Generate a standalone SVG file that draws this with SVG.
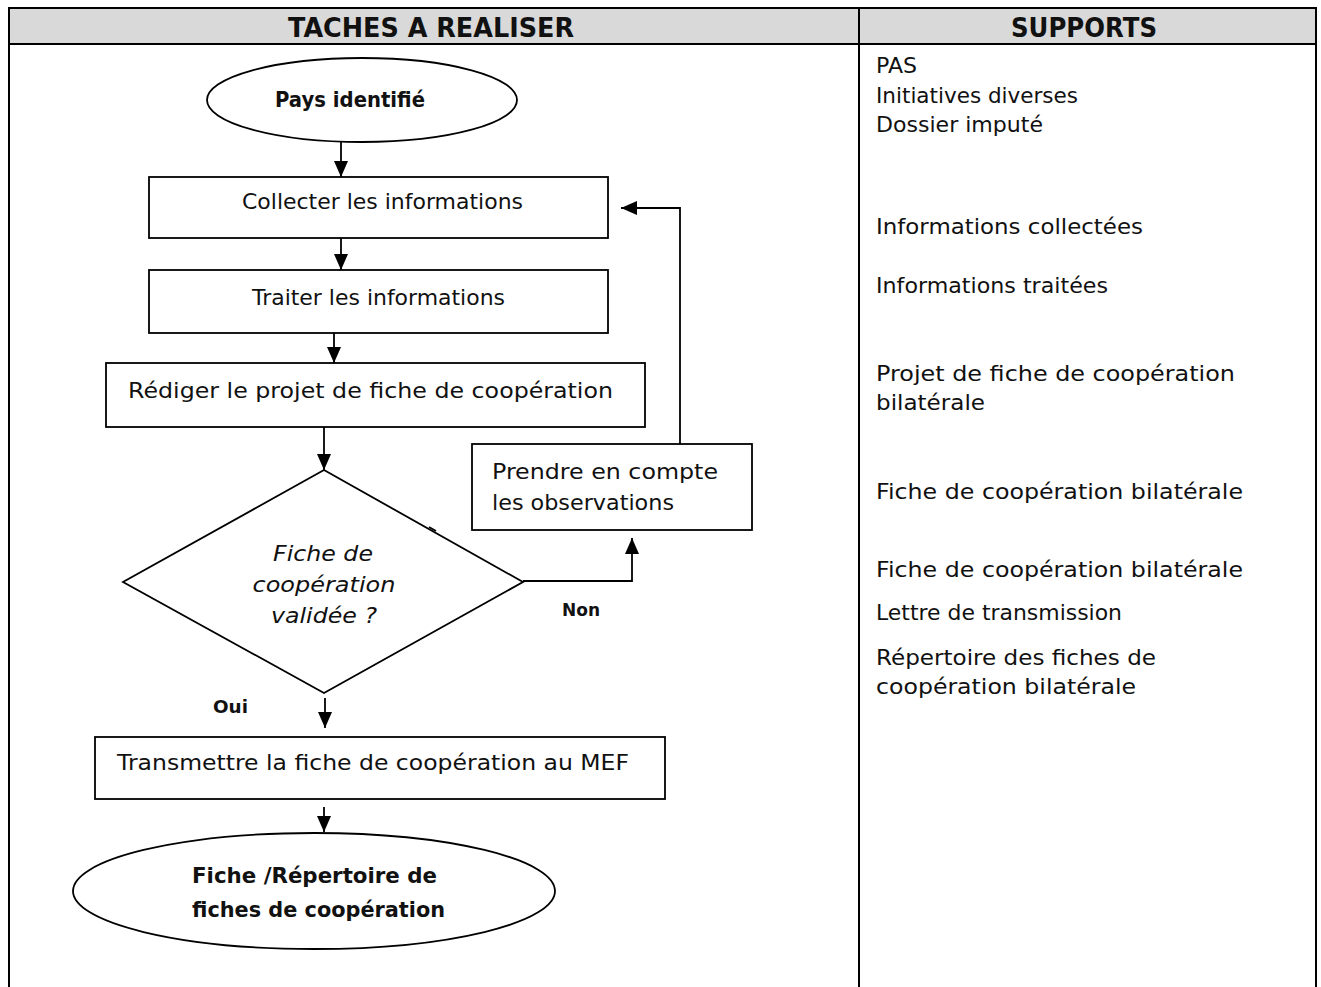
<svg xmlns="http://www.w3.org/2000/svg" width="1321" height="987" viewBox="0 0 1321 987">
  <defs>
    <marker id="ah" markerUnits="userSpaceOnUse" markerWidth="16" markerHeight="14" refX="16" refY="7" orient="auto">
      <path d="M0,0 L16,7 L0,14 z" fill="#000"/>
    </marker>
    <style>
      .grid { stroke: #000; stroke-width: 2; fill: none; }
      .shape { stroke: #000; stroke-width: 1.8; fill: #fff; }
      .conn { stroke: #000; stroke-width: 1.8; fill: none; }
      .t { font-family: "DejaVu Sans", "Liberation Sans", sans-serif; font-size: 21px; fill: #111; }
      .b { font-family: "DejaVu Sans", "Liberation Sans", sans-serif; font-weight: bold; font-size: 21px; fill: #111; }
      .i { font-family: "DejaVu Sans", "Liberation Sans", sans-serif; font-style: italic; font-size: 21px; fill: #111; }
      .h { font-family: "DejaVu Sans", "Liberation Sans", sans-serif; font-weight: bold; font-size: 26px; fill: #111; }
      .lbl { font-family: "DejaVu Sans", "Liberation Sans", sans-serif; font-weight: bold; font-size: 18px; fill: #111; }
    </style>
  </defs>

  <rect width="1321" height="987" fill="#fff"/>

  <!-- table frame -->
  <g id="table">
    <rect x="9" y="8" width="1307" height="36" fill="#d9d9d9"/>
    <line class="grid" x1="9" y1="8" x2="1316" y2="8"/>
    <line class="grid" x1="9" y1="44" x2="1316" y2="44"/>
    <line class="grid" x1="9" y1="7" x2="9" y2="987"/>
    <line class="grid" x1="859" y1="7" x2="859" y2="987"/>
    <line class="grid" x1="1316" y1="7" x2="1316" y2="987"/>
    <text class="h" x="288" y="37" textLength="286" lengthAdjust="spacingAndGlyphs">TACHES A REALISER</text>
    <text class="h" x="1011" y="37" textLength="146" lengthAdjust="spacingAndGlyphs">SUPPORTS</text>
  </g>

  <!-- supports column -->
  <g id="supports">
    <text class="t" x="876" y="73" textLength="41" lengthAdjust="spacingAndGlyphs">PAS</text>
    <text class="t" x="876" y="103" textLength="202" lengthAdjust="spacingAndGlyphs">Initiatives diverses</text>
    <text class="t" x="876" y="132" textLength="167" lengthAdjust="spacingAndGlyphs">Dossier imputé</text>
    <text class="t" x="876" y="234" textLength="267" lengthAdjust="spacingAndGlyphs">Informations collectées</text>
    <text class="t" x="876" y="293" textLength="232" lengthAdjust="spacingAndGlyphs">Informations traitées</text>
    <text class="t" x="876" y="381" textLength="359" lengthAdjust="spacingAndGlyphs">Projet de fiche de coopération</text>
    <text class="t" x="876" y="410" textLength="109" lengthAdjust="spacingAndGlyphs">bilatérale</text>
    <text class="t" x="876" y="499" textLength="367" lengthAdjust="spacingAndGlyphs">Fiche de coopération bilatérale</text>
    <text class="t" x="876" y="577" textLength="367" lengthAdjust="spacingAndGlyphs">Fiche de coopération bilatérale</text>
    <text class="t" x="876" y="620" textLength="246" lengthAdjust="spacingAndGlyphs">Lettre de transmission</text>
    <text class="t" x="876" y="665" textLength="280" lengthAdjust="spacingAndGlyphs">Répertoire des fiches de</text>
    <text class="t" x="876" y="694" textLength="260" lengthAdjust="spacingAndGlyphs">coopération bilatérale</text>
  </g>

  <!-- connectors -->
  <g id="connectors">
    <line class="conn" x1="341" y1="142" x2="341" y2="177" marker-end="url(#ah)"/>
    <line class="conn" x1="341" y1="238" x2="341" y2="270" marker-end="url(#ah)"/>
    <line class="conn" x1="334" y1="333" x2="334" y2="363" marker-end="url(#ah)"/>
    <line class="conn" x1="324" y1="427" x2="324" y2="470" marker-end="url(#ah)"/>
    <line class="conn" x1="325" y1="698" x2="325" y2="728" marker-end="url(#ah)"/>
    <line class="conn" x1="324" y1="807" x2="324" y2="832" marker-end="url(#ah)"/>
    <polyline class="conn" points="523,581 632,581 632,538" marker-end="url(#ah)"/>
    <polyline class="conn" points="680,444 680,208 621,208" marker-end="url(#ah)"/>
    <text class="lbl" x="562" y="616" textLength="38" lengthAdjust="spacingAndGlyphs">Non</text>
    <text class="lbl" x="213" y="713" textLength="35" lengthAdjust="spacingAndGlyphs">Oui</text>
  </g>

  <!-- flow nodes -->
  <g id="start">
    <ellipse class="shape" cx="362" cy="100" rx="155" ry="42"/>
    <text class="b" x="275" y="107" textLength="150" lengthAdjust="spacingAndGlyphs">Pays identifié</text>
  </g>

  <g id="collect">
    <rect class="shape" x="149" y="177" width="459" height="61"/>
    <text class="t" x="242" y="209" textLength="281" lengthAdjust="spacingAndGlyphs">Collecter les informations</text>
  </g>

  <g id="process">
    <rect class="shape" x="149" y="270" width="459" height="63"/>
    <text class="t" x="252" y="305" textLength="253" lengthAdjust="spacingAndGlyphs">Traiter les informations</text>
  </g>

  <g id="draft">
    <rect class="shape" x="106" y="363" width="539" height="64"/>
    <text class="t" x="128" y="398" textLength="485" lengthAdjust="spacingAndGlyphs">Rédiger le projet de fiche de coopération</text>
  </g>

  <g id="decision">
    <polygon class="shape" points="324,470 523,582 324,693 123,582"/>
    <line class="conn" x1="429" y1="527" x2="436" y2="531"/>
    <text class="i" x="323" y="561" text-anchor="middle" textLength="100" lengthAdjust="spacingAndGlyphs">Fiche de</text>
    <text class="i" x="324" y="592" text-anchor="middle" textLength="143" lengthAdjust="spacingAndGlyphs">coopération</text>
    <text class="i" x="324" y="623" text-anchor="middle" textLength="106" lengthAdjust="spacingAndGlyphs">validée ?</text>
  </g>

  <g id="revise">
    <rect class="shape" x="472" y="444" width="280" height="86"/>
    <text class="t" x="492" y="479" textLength="226" lengthAdjust="spacingAndGlyphs">Prendre en compte</text>
    <text class="t" x="492" y="510" textLength="182" lengthAdjust="spacingAndGlyphs">les observations</text>
  </g>

  <g id="transmit">
    <rect class="shape" x="95" y="737" width="570" height="62"/>
    <text class="t" x="117" y="770" textLength="512" lengthAdjust="spacingAndGlyphs">Transmettre la fiche de coopération au MEF</text>
  </g>

  <g id="end">
    <ellipse class="shape" cx="314" cy="891" rx="241" ry="58"/>
    <text class="b" x="192" y="883" textLength="245" lengthAdjust="spacingAndGlyphs">Fiche /Répertoire de</text>
    <text class="b" x="192" y="917" textLength="253" lengthAdjust="spacingAndGlyphs">fiches de coopération</text>
  </g>
</svg>
